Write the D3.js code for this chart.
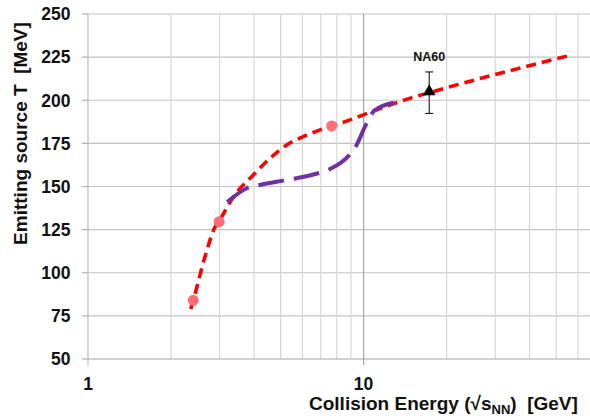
<!DOCTYPE html>
<html><head><meta charset="utf-8">
<script src="https://cdn.jsdelivr.net/npm/d3@7"></script>
<style>
html,body{margin:0;padding:0;background:#fff;}
svg{display:block;font-family:"Liberation Sans",Arial,sans-serif;}
</style></head>
<body>
<svg id="chart" width="590" height="418"></svg>
<script>
// ---- data ----
const xMajorTicks = [1, 10];
const xMinorTicks = [2,3,4,5,6,7,8,9,20,30,40,50,60,70,80,90];
const yTicks = [50, 75, 100, 125, 150, 175, 200, 225, 250];
// red dashed curve (energy GeV, T MeV)
const redX = [2.36, 2.41, 2.66, 2.89, 2.99, 3.37, 3.98, 4.58, 5.26, 6.04, 6.95, 7.66, 8.93, 10.85, 14.7, 17.3, 56];
const redY = [79, 84, 109.5, 126.5, 130, 144, 156.7, 166.4, 174.1, 178.9, 182.8, 185, 188.6, 193.8, 201.1, 204.4, 226];
// purple long-dashed curve
const purpleX = [3.2, 3.77, 4.2, 5.1, 5.72, 6.95, 7.55, 8.93, 9.43, 10.25, 10.99, 13.3];
const purpleY = [141, 149, 150.9, 153.4, 154.8, 158, 160.1, 168.7, 174.1, 186.6, 194.3, 199];
// pink circle points
const circleX = [2.41, 2.99, 7.66];
const circleY = [84, 129.6, 185.1];
// NA60 point
const na60X = [17.3];
const na60Y = [204.4];
const na60Err = [12];
const na60Label = ["NA60"];

// ---- scales ----
const svg = d3.select("#chart");
const x = d3.scaleLog().domain([1, 100]).range([88, 639.2]);
const y = d3.scaleLinear().domain([50, 250]).range([359, 14]);

// gridlines
const g = svg.append("g");
g.selectAll(".hg").data(yTicks.filter(d => d > 50)).enter().append("line")
  .attr("x1", x(1)).attr("x2", 590).attr("y1", d => y(d)).attr("y2", d => y(d))
  .attr("stroke", "#c4c4c4").attr("stroke-width", 1.2);
g.selectAll(".vm").data(xMinorTicks).enter().append("line")
  .attr("x1", d => x(d)).attr("x2", d => x(d)).attr("y1", y(250)).attr("y2", y(50))
  .attr("stroke", "#d6d6d6").attr("stroke-width", 1.2);
// major vertical line at 10
g.append("line").attr("x1", x(10)).attr("x2", x(10)).attr("y1", y(250)).attr("y2", y(50) + 6)
  .attr("stroke", "#a6a6a6").attr("stroke-width", 1.2);
// y axis line
g.append("line").attr("x1", x(1)).attr("x2", x(1)).attr("y1", y(250)).attr("y2", y(50) + 6)
  .attr("stroke", "#c4c4c4").attr("stroke-width", 1.4);
// x axis line
g.append("line").attr("x1", x(1)).attr("x2", 590).attr("y1", y(50)).attr("y2", y(50))
  .attr("stroke", "#a6a6a6").attr("stroke-width", 1.2);
// y tick marks
g.selectAll(".yt").data(yTicks).enter().append("line")
  .attr("x1", x(1) - 6).attr("x2", x(1)).attr("y1", d => y(d)).attr("y2", d => y(d))
  .attr("stroke", "#b0b0b0").attr("stroke-width", 1.2);

// tick labels
svg.selectAll(".yl").data(yTicks).enter().append("text")
  .attr("x", 70.5).attr("y", d => y(d) + 6.3).attr("text-anchor", "end")
  .attr("font-size", 17.5).attr("font-weight", "bold").attr("fill", "#111")
  .text(d => d);
svg.selectAll(".xl").data(xMajorTicks).enter().append("text")
  .attr("x", d => x(d)).attr("y", 390).attr("text-anchor", "middle")
  .attr("font-size", 17.5).attr("font-weight", "bold").attr("fill", "#111")
  .text(d => d);

// axis titles
svg.append("text").attr("transform", "translate(26.5,133.5) rotate(-90)")
  .attr("text-anchor", "middle").attr("font-size", 19).attr("font-weight", "bold")
  .attr("fill", "#111").style("white-space", "pre")
  .text("Emitting source T  [MeV]");
const xt = svg.append("text").attr("x", 309).attr("y", 409.5)
  .attr("font-size", 19).attr("font-weight", "bold").attr("fill", "#111").style("white-space", "pre");
xt.append("tspan").text("Collision Energy (√s");
xt.append("tspan").attr("dy", 4).attr("font-size", 13).text("NN");
xt.append("tspan").attr("dy", -4).text(")  [GeV]");

// curves
const line = d3.line().x(d => x(d[0])).y(d => y(d[1])).curve(d3.curveMonotoneX);
const red = d3.zip(redX, redY);
const purple = d3.zip(purpleX, purpleY);
svg.append("path").datum(red).attr("d", line).attr("fill", "none")
  .attr("stroke", "#ff0000").attr("stroke-width", 3.6).attr("stroke-dasharray", "10,6");
svg.append("path").datum(purple).attr("d", line).attr("fill", "none")
  .attr("stroke", "#7030a0").attr("stroke-width", 4).attr("stroke-dasharray", "26,10");

// circles
svg.selectAll(".c").data(d3.zip(circleX, circleY)).enter().append("circle")
  .attr("cx", d => x(d[0])).attr("cy", d => y(d[1])).attr("r", 5.5)
  .attr("fill", "#ff6f75");

// NA60 error bar + triangle
const na = d3.zip(na60X, na60Y, na60Err, na60Label);
const ng = svg.selectAll(".na").data(na).enter().append("g");
ng.append("line").attr("x1", d => x(d[0])).attr("x2", d => x(d[0]))
  .attr("y1", d => y(d[1] + d[2])).attr("y2", d => y(d[1] - d[2]))
  .attr("stroke", "#000").attr("stroke-width", 1);
ng.append("line").attr("x1", d => x(d[0]) - 4).attr("x2", d => x(d[0]) + 4)
  .attr("y1", d => y(d[1] + d[2])).attr("y2", d => y(d[1] + d[2]))
  .attr("stroke", "#000").attr("stroke-width", 1);
ng.append("line").attr("x1", d => x(d[0]) - 4).attr("x2", d => x(d[0]) + 4)
  .attr("y1", d => y(d[1] - d[2])).attr("y2", d => y(d[1] - d[2]))
  .attr("stroke", "#000").attr("stroke-width", 1);
ng.append("path")
  .attr("d", d3.symbol().type(d3.symbolTriangle).size(70))
  .attr("transform", d => `translate(${x(d[0])},${y(d[1]) - 1})`)
  .attr("fill", "#000");
ng.append("text").attr("x", d => x(d[0])).attr("y", d => y(d[1] + d[2]) - 10.5)
  .attr("text-anchor", "middle").attr("font-size", 12.5).attr("font-weight", "bold")
  .attr("fill", "#111").text(d => d[3]);
</script>
</body></html>
